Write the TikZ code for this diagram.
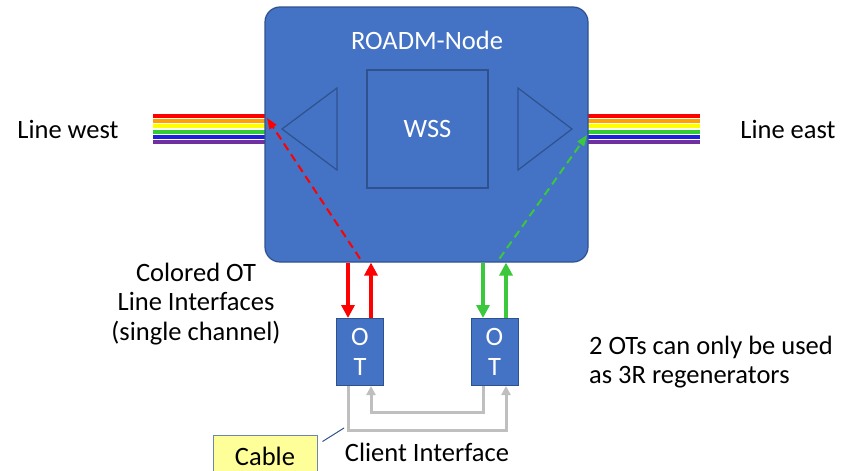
\documentclass[tikz,border=0pt]{standalone}
\usepackage{fontspec}
\setmainfont{Carlito}
\usetikzlibrary{arrows.meta,positioning,calc}
\definecolor{NodeBlue}{HTML}{4472C4}
\definecolor{NodeEdge}{HTML}{2F528F}
\definecolor{SigRed}{HTML}{FF0000}
\definecolor{SigGreen}{HTML}{3CC83C}
\definecolor{CableGrey}{HTML}{BFBFBF}
\definecolor{CableFill}{HTML}{FFFF99}
\definecolor{RbOrange}{HTML}{FFA000}
\definecolor{RbYellow}{HTML}{FFFF00}
\definecolor{RbGreen}{HTML}{33CC33}
\definecolor{RbBlue}{HTML}{1F1FE0}
\definecolor{RbPurple}{HTML}{7030A0}
\tikzset{txt/.style={font=\fontsize{26.5}{29.5}\selectfont,text=black,inner sep=0pt},
  wtxt/.style={txt,text=white},
  roadmbox/.style={draw=NodeEdge,fill=NodeBlue,line width=1.2pt,rounded corners=15pt},
  wssbox/.style={draw=NodeEdge,line width=1.2pt,wtxt},
  otbox/.style={draw=NodeEdge,fill=NodeBlue,line width=1pt,wtxt,align=center,
    minimum width=47pt,minimum height=67pt},
  redarr/.style={-{Triangle[length=13pt,width=13pt]},line width=4pt,draw=SigRed},
  greenarr/.style={redarr,draw=SigGreen},
  reddash/.style={-{Triangle[length=11pt,width=8pt]},line width=2pt,
    dash pattern=on 8pt off 5pt,draw=SigRed},
  greendash/.style={reddash,draw=SigGreen},
  cablearr/.style={-{Triangle[length=9pt,width=9pt]},line width=3pt,draw=CableGrey},
  cablebox/.style={draw=NodeEdge!70,fill=CableFill,line width=1pt,txt,
    minimum width=104pt,minimum height=42pt}}
\begin{document}
\begin{tikzpicture}[x=1pt,y=-1pt]
  \useasboundingbox (0,0) rectangle (852,471);
  % rainbow lines west and east
  \foreach \c/\y in {SigRed/115.5,RbOrange/120.5,RbYellow/126,RbGreen/132,RbBlue/137,RbPurple/141.5}{
    \draw[\c,line width=4pt] (153,\y) -- (266,\y);
    \draw[\c,line width=4pt] (587,\y) -- (700,\y);
  }
  \node[roadmbox,minimum width=323pt,minimum height=255pt] (roadm) at (426.5,134.5) {};
  \node[wtxt] (title) at (427,40) {ROADM-Node};
  \node[wssbox,minimum width=121pt,minimum height=118pt] (wss) at (427.5,129) {WSS};
  \draw[NodeEdge,line width=1.2pt] (337,88) -- (282,129) -- (337,170) -- cycle;
  \draw[NodeEdge,line width=1.2pt] (518,88) -- (572,129) -- (518,170) -- cycle;
  \node[txt] (west) at (68,129) {Line west};
  \node[txt] (east) at (788,129) {Line east};
  % optical transponders
  \node[otbox] (otw) at (360,352) {O\\[1pt]T};
  \node[otbox] (ote) at (494.5,352) {O\\[1pt]T};
  \draw[redarr] ([xshift=-12pt]otw.north |- roadm.south) -- ([xshift=-12pt]otw.north);
  \draw[redarr] ([xshift=11pt]otw.north) -- ([xshift=11pt]otw.north |- roadm.south);
  \draw[greenarr] ([xshift=-11.5pt]ote.north |- roadm.south) -- ([xshift=-11.5pt]ote.north);
  \draw[greenarr] ([xshift=11.5pt]ote.north) -- ([xshift=11.5pt]ote.north |- roadm.south);
  \coordinate (wtip) at (267,118);
  \coordinate (etip) at (587,135);
  \draw[reddash] ([yshift=4pt]otw.north |- roadm.south) -- (wtip);
  \draw[greendash] ([xshift=5pt,yshift=4pt]ote.north |- roadm.south) -- (etip);
  % client cable between the OTs
  \draw[cablearr] ([xshift=-12pt]otw.south) -- ++(0,44) -| ([xshift=11.5pt]ote.south);
  \draw[cablearr] ([xshift=-11.5pt]ote.south) -- ++(0,26) -| ([xshift=11pt]otw.south);
  \node[txt,align=center] (colot) at (196,304) {Colored OT\\Line Interfaces\\(single channel)};
  \node[txt,align=left,anchor=west] (regen) at (589,362) {2 OTs can only be used\\as 3R regenerators};
  \node[txt] (client) at (427,452) {Client Interface};
  \node[cablebox] (cable) at (265,456) {Cable};
  \coordinate (cabletip) at (344,428);
  \draw[NodeEdge,line width=1pt] ([xshift=5pt,yshift=-7pt]cable.north east) -- (cabletip);
\end{tikzpicture}
\end{document}
